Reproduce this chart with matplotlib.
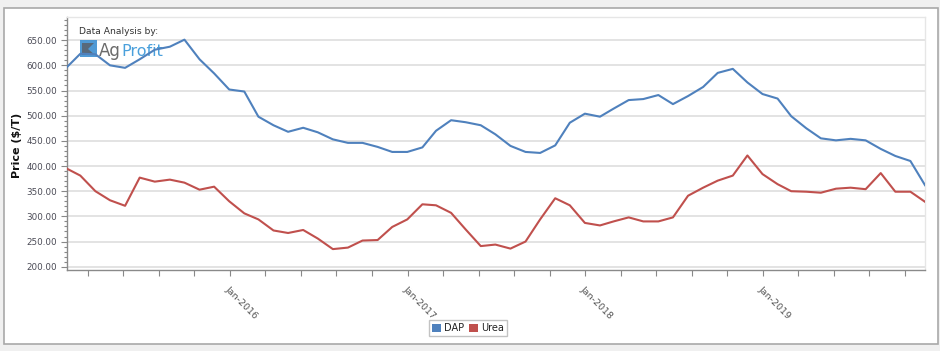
import matplotlib
matplotlib.use("Agg")
import matplotlib.pyplot as plt
import matplotlib.dates as mdates
from matplotlib.patches import Rectangle, Patch, Polygon
from matplotlib.ticker import FixedLocator, MultipleLocator, FuncFormatter
import numpy as np
import pandas as pd

# ---------------- data ----------------
dates = pd.date_range(start="2015-01-31", periods=59, freq=pd.offsets.MonthEnd())

dap = [596, 623, 622, 600, 595, 612, 631, 637, 651, 612, 584, 552,
       548, 498, 481, 468, 476, 467, 453, 446, 446, 438, 428, 428,
       437, 470, 491, 487, 481, 463, 440, 428, 426, 441, 486, 504,
       498, 514, 531, 533, 541, 523, 539, 557, 585, 593, 566, 543,
       534, 499, 475, 455, 451, 454, 451, 434, 420, 410, 362]

urea = [395, 381, 350, 332, 321, 377, 369, 373, 367, 353, 359, 330,
        306, 294, 272, 267, 273, 256, 235, 238, 252, 253, 279, 294,
        324, 322, 307, 274, 241, 244, 236, 250, 294, 336, 322, 287,
        282, 290, 298, 290, 290, 298, 341, 357, 371, 381, 421, 384,
        364, 350, 349, 347, 355, 357, 354, 386, 349, 349, 329]

series_names = ["DAP", "Urea"]
series_colors = ["#4f81bd", "#c0504d"]
y_ticks = [200, 250, 300, 350, 400, 450, 500, 550, 600, 650]
x_tick_years = [2016, 2017, 2018, 2019]

# ---------------- figure ----------------
W, H = 940, 351
fig = plt.figure(figsize=(W / 100, H / 100), dpi=100)
fig.patch.set_facecolor("#f0f0f0")

def fx(px):
    return px / W

def fy(py):
    return 1 - py / H

# white panel
fig.patches.append(Rectangle((fx(4), fy(344)), fx(938) - fx(4), fy(8) - fy(344),
                             transform=fig.transFigure, facecolor="white",
                             edgecolor="#a9a9a9", linewidth=1.2, zorder=-10))

ax = fig.add_axes([fx(66.7), fy(270), fx(925) - fx(66.7), fy(17) - fy(270)])
ax.set_facecolor("white")

ax.plot(dates, dap, color=series_colors[0], linewidth=1.5, zorder=5)
ax.plot(dates, urea, color=series_colors[1], linewidth=1.5, zorder=5)

ax.set_xlim(dates[0], dates[-1])
ax.set_ylim(193.5, 696)

# y axis
ax.set_yticks(y_ticks)
ax.yaxis.set_minor_locator(MultipleLocator(10))
ax.yaxis.set_major_formatter(FuncFormatter(lambda v, p: f"{v:.2f}"))
ax.tick_params(axis="y", which="major", length=4, width=0.8, color="#888888",
               labelsize=6.3, labelcolor="#4a4a55", pad=3)
ax.tick_params(axis="y", which="minor", length=2, width=0.8, color="#888888")
ax.grid(axis="y", which="major", color="#e3e3e3", linewidth=1.4, zorder=0)

# x axis
major = [mdates.date2num(pd.Timestamp(f"{y}-01-01")) for y in x_tick_years]
ax.xaxis.set_major_locator(FixedLocator(major))
ax.set_xticklabels([f"Jan-{y}" for y in x_tick_years])
lo, hi = ax.get_xlim()
step = 365.25 / 5
minor = []
t = major[0]
while t > lo:
    t -= step
k = t
while k <= hi:
    if k >= lo and all(abs(k - m) > 1 for m in major):
        minor.append(k)
    k += step
ax.xaxis.set_minor_locator(FixedLocator(minor))
ax.tick_params(axis="x", which="both", length=4, width=0.8, color="#888888")
ax.tick_params(axis="x", which="major", labelsize=6.8, labelcolor="#555555", pad=6.5)
for lbl in ax.get_xticklabels():
    lbl.set_rotation(-45)
    lbl.set_ha("left")
    lbl.set_va("top")
    lbl.set_rotation_mode("anchor")

for side in ["left", "bottom"]:
    ax.spines[side].set_color("#8a8a8a")
    ax.spines[side].set_linewidth(1.0)
for side in ["top", "right"]:
    ax.spines[side].set_color("#e6e6e6")
    ax.spines[side].set_linewidth(1.0)

# y label
fig.text(fx(17), fy(145), "Price ($/T)", rotation=90, ha="center", va="center",
         fontsize=8, fontweight="bold", color="#111111")

# watermark / logo
ax.text(fx(79), fy(31), "Data Analysis by:", transform=fig.transFigure,
        fontsize=6.6, color="#333333", ha="left", va="center", zorder=2)
ax.add_patch(Rectangle((fx(80), fy(57)), fx(97) - fx(80), fy(40) - fy(57),
                       transform=fig.transFigure, facecolor="#3d8fd1",
                       edgecolor="none", alpha=0.9, zorder=2))
ax.add_patch(Polygon([(fx(82), fy(55)), (fx(82), fy(43)), (fx(94), fy(43)),
                      (fx(88), fy(49)), (fx(95), fy(55))],
                     closed=True, transform=fig.transFigure,
                     facecolor="#5a6470", edgecolor="none", alpha=0.9, zorder=2))
ax.text(fx(99), fy(56), "Ag", transform=fig.transFigure, fontsize=12,
        color="#6b6b6b", ha="left", va="baseline", zorder=2)
ax.text(fx(121.5), fy(56), "Profit", transform=fig.transFigure, fontsize=11.5,
        color="#4aa0dc", ha="left", va="baseline", zorder=2)

# legend
handles = [Patch(facecolor=c, edgecolor="none", label=n)
           for n, c in zip(series_names, series_colors)]
leg = fig.legend(handles=handles, loc="center", bbox_to_anchor=(fx(468), fy(328)),
                 ncol=2, fontsize=7, frameon=True, fancybox=False,
                 handlelength=0.9, handleheight=0.9, handletextpad=0.3,
                 columnspacing=0.5, borderpad=0.35, borderaxespad=0)
leg.get_frame().set_edgecolor("#b5b5b5")
leg.get_frame().set_linewidth(1.0)
for txt in leg.get_texts():
    txt.set_color("#222222")

fig.savefig("out.png", dpi=100, facecolor=fig.get_facecolor())
